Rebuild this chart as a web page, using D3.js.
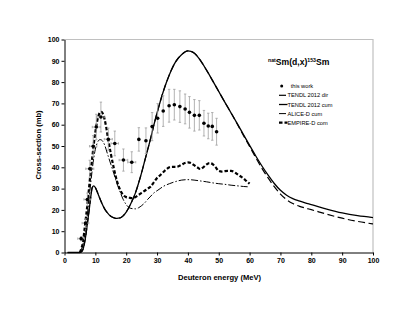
<!DOCTYPE html>
<html lang="en">
<head>
<meta charset="utf-8">
<title>natSm(d,x)153Sm</title>
<script src="https://cdn.jsdelivr.net/npm/d3@7"></script>
<style>
  body { margin: 0; background: #fff; }
  text { font-family: "Liberation Sans", Arial, sans-serif; }
</style>
</head>
<body>
<script>
// measured points (this work)
var expE   = [5.4, 6.8, 7.4, 8.2, 9.3, 10.3, 11.8, 14.2, 16.3, 19.1, 21.8, 24.1, 26.4, 28.4, 30.2, 32.0, 33.9, 35.6, 37.4, 39.1, 40.5, 42.1, 43.7, 45.2, 46.6, 47.9, 49.3];
var expSig = [6.5, 13.8, 24.9, 39.3, 49.9, 58.9, 63.6, 53.2, 51.2, 43.4, 42.4, 53.1, 52.5, 59.1, 63.0, 66.4, 68.9, 69.4, 68.5, 67.4, 65.8, 64.4, 64.4, 60.7, 59.4, 59.2, 56.7];
var expDy  = [1.0, 2.0, 3.0, 4.0, 5.0, 6.0, 7.0, 5.2, 5.8, 5.2, 4.9, 5.5, 6.0, 6.6, 6.9, 7.2, 7.7, 7.2, 7.4, 7.0, 7.4, 7.4, 6.9, 6.0, 6.0, 6.5, 6.3];
var expDx  = [1.1, 1.1, 1.1, 1.3, 1.2, 1.3, 1.3, 1.3, 1.2, 1.4, 1.3, 0.4, 0.4, 0.4, 0.4, 0.4, 0.4, 0.4, 0.4, 0.4, 0.4, 0.4, 0.4, 0.4, 0.4, 0.4, 0.4];

// TENDL-2012 cumulative
var tendlCumE = [1, 2, 3, 4, 5, 5.5, 6, 6.5, 7, 7.5, 8, 8.5, 9, 9.5, 10, 11, 12, 13, 14, 15, 16, 17, 18, 19, 20, 21, 22, 23, 24, 25, 26, 27, 28, 29, 30, 32, 34, 36, 38, 40, 42, 44, 46, 48, 50, 52, 54, 56, 58, 60, 62, 64, 66, 68, 70, 72, 74, 76, 78, 80, 85, 90, 95, 100];
var tendlCum  = [0, 0, 0, 0, 0, 0.3, 1.5, 4.5, 9, 14.5, 20, 26, 30.5, 31.3, 30.5, 27, 23.5, 20.5, 18.5, 17, 16.3, 16, 16.2, 17.2, 19, 21.5, 24.5, 28, 32.5, 37.5, 43, 48.5, 54, 60, 65.5, 75.5, 83.5, 89.5, 93, 94.7, 93.7, 90.3, 85.7, 80.7, 75.6, 70.5, 65.5, 60.5, 55.4, 50.3, 45.3, 40.6, 36.3, 32.4, 29.2, 26.9, 25.3, 24.2, 23.3, 22.5, 20.4, 18.6, 17.3, 16.4];

// TENDL-2012 direct
var tendlDirE = tendlCumE;
var tendlDir  = [0, 0, 0, 0, 0, 0.3, 1.5, 4.5, 9, 14.5, 20, 26, 30.5, 31.3, 30.5, 27, 23.5, 20.5, 18.5, 17, 16.3, 16, 16.2, 17.2, 19, 21.5, 24.5, 28, 32.5, 37.5, 43, 48.5, 54, 60, 65.5, 75.5, 83.5, 89.5, 93, 94.7, 93.7, 90.3, 85.7, 80.7, 75.6, 70.5, 65.5, 60.3, 55, 49.8, 44.5, 39.5, 35, 30.9, 27.4, 24.8, 23.0, 21.8, 20.9, 20.1, 18.0, 16.1, 14.6, 13.4];

// ALICE-D cumulative
var aliceE = [5, 5.5, 6, 6.5, 7, 7.5, 8, 8.5, 9, 9.5, 10, 10.5, 11, 11.5, 12, 12.5, 13, 14, 15, 16, 17, 18, 19, 20, 21, 22, 23, 24, 25, 26, 27, 28, 29, 30, 31, 32, 34, 36, 38, 40, 42, 44, 46, 48, 50, 52, 54, 56, 58, 60];
var alice  = [0, 1.5, 4, 8, 13, 19, 26, 32.5, 39, 44.5, 48.5, 51, 52.5, 53, 52.8, 52, 50.5, 46, 41.5, 37, 32.5, 28.5, 25, 22.5, 21, 20.6, 20.5, 21, 22, 23.3, 25, 26.5, 28, 29, 30, 31, 32.3, 33.3, 34, 34.2, 34, 33.6, 33.2, 32.7, 32.3, 32, 31.6, 31.3, 31, 30.8];

// EMPIRE-D cumulative
var empireE = [5, 5.5, 6, 6.5, 7, 7.5, 8, 8.5, 9, 9.5, 10, 10.5, 11, 11.5, 12, 12.5, 13, 13.5, 14, 15, 16, 17, 18, 19, 20, 21, 22, 23, 24, 25, 26, 27, 28, 29, 30, 31, 32, 33, 34, 35, 36, 37, 38, 39, 40, 41, 42, 43, 44, 45, 46, 47, 48, 49, 50, 51, 52, 53, 54, 55, 56, 57, 58, 59, 60];
var empire  = [0, 2, 5, 11, 17, 23.5, 31, 38, 44.5, 51, 56.5, 61, 64, 65.8, 66, 65, 62.5, 59, 54.5, 46.5, 39.5, 33.5, 29.5, 27, 26, 25.7, 25.5, 26, 27, 28, 29, 30, 31, 33, 35, 36.3, 37.7, 39, 40, 40.2, 40.2, 40.5, 41.2, 42, 42.3, 42, 41, 40, 39.2, 40, 41.3, 42, 41.5, 40, 38.3, 38, 38.2, 38.3, 38.3, 37.8, 36.8, 35.8, 34.8, 33.5, 32.3];

var xTicks = d3.range(0, 101, 10);
var yTicks = d3.range(0, 101, 10);

var W = 415, H = 321;
var svg = d3.select("body").append("svg")
    .attr("width", W)
    .attr("height", H);

var x = d3.scaleLinear().domain([0, 100]).range([64.5, 373]);
var y = d3.scaleLinear().domain([0, 100]).range([252.5, 39.5]);

// plot frame (grey top / right)
svg.append("path")
    .attr("d", "M" + x(0) + "," + y(100) + "H" + x(100) + "V" + y(0))
    .attr("fill", "none")
    .attr("stroke", "#c0c0c0")
    .attr("stroke-width", 1.2);

// axes
var xAxis = svg.append("g")
    .attr("transform", "translate(0," + y(0) + ")")
    .call(d3.axisBottom(x).tickValues(xTicks).tickSize(3).tickPadding(3).tickSizeOuter(0));
var yAxis = svg.append("g")
    .attr("transform", "translate(" + x(0) + ",0)")
    .call(d3.axisLeft(y).tickValues(yTicks).tickSize(3).tickPadding(2).tickSizeOuter(0));

[xAxis, yAxis].forEach(function (g) {
    g.selectAll("text")
        .attr("font-family", "Liberation Sans, Arial, sans-serif")
        .attr("font-size", 7)
        .attr("font-weight", "bold")
        .attr("fill", "#000");
    g.select(".domain").attr("stroke", "#000").attr("stroke-width", 1);
    g.selectAll(".tick line").attr("stroke", "#000");
});

// axis titles
svg.append("text")
    .attr("x", 219.5).attr("y", 279.5)
    .attr("text-anchor", "middle")
    .attr("font-size", 7.6).attr("font-weight", "bold")
    .text("Deuteron energy (MeV)");

svg.append("text")
    .attr("transform", "translate(40.5,145) rotate(-90)")
    .attr("text-anchor", "middle")
    .attr("font-size", 7.6).attr("font-weight", "bold")
    .text("Cross-section (mb)");

// curves
function zip(xs, ys) { return xs.map(function (v, i) { return [v, ys[i]]; }); }
var line = d3.line()
    .x(function (d) { return x(d[0]); })
    .y(function (d) { return y(d[1]); })
    .curve(d3.curveMonotoneX);

var series = [
    { name: "TENDL 2012 dir", data: zip(tendlDirE, tendlDir), width: 1.2, dash: "7,3.5" },
    { name: "TENDL 2012 cum", data: zip(tendlCumE, tendlCum), width: 1.3, dash: null },
    { name: "ALICE-D cum",    data: zip(aliceE, alice),       width: 1.0, dash: "7,2,1.5,2" },
    { name: "EMPIRE-D com",   data: zip(empireE, empire),     width: 2.2, dash: "3.5,2" }
];

svg.append("g").selectAll("path")
    .data(series)
    .join("path")
    .attr("d", function (s) { return line(s.data); })
    .attr("fill", "none")
    .attr("stroke", "#000")
    .attr("stroke-width", function (s) { return s.width; })
    .attr("stroke-dasharray", function (s) { return s.dash; });

// experimental points with error bars
var pts = expE.map(function (e, i) {
    return { e: e, s: expSig[i], dy: expDy[i], dx: expDx[i] };
});

var eb = svg.append("g").attr("stroke", "#a0a0a0").attr("stroke-width", 0.8);
pts.forEach(function (p) {
    var cx = x(p.e), cy = y(p.s);
    var y1 = y(p.s + p.dy), y2 = y(p.s - p.dy);
    eb.append("line").attr("x1", cx).attr("x2", cx).attr("y1", y1).attr("y2", y2);
    eb.append("line").attr("x1", cx - 1.2).attr("x2", cx + 1.2).attr("y1", y1).attr("y2", y1);
    eb.append("line").attr("x1", cx - 1.2).attr("x2", cx + 1.2).attr("y1", y2).attr("y2", y2);
    if (p.dx > 0.5) {
        var x1 = x(p.e - p.dx), x2 = x(p.e + p.dx);
        eb.append("line").attr("x1", x1).attr("x2", x2).attr("y1", cy).attr("y2", cy);
        eb.append("line").attr("x1", x1).attr("x2", x1).attr("y1", cy - 1.2).attr("y2", cy + 1.2);
        eb.append("line").attr("x1", x2).attr("x2", x2).attr("y1", cy - 1.2).attr("y2", cy + 1.2);
    }
});

svg.append("g").selectAll("circle")
    .data(pts)
    .join("circle")
    .attr("cx", function (p) { return x(p.e); })
    .attr("cy", function (p) { return y(p.s); })
    .attr("r", 1.8)
    .attr("fill", "#000");

// reaction title
var title = svg.append("text")
    .attr("x", 268).attr("y", 64.5)
    .attr("font-weight", "bold").attr("font-size", 8.6);
title.append("tspan").attr("font-size", 5.2).attr("dy", -3).text("nat");
title.append("tspan").attr("dy", 3).text("Sm(d,x)");
title.append("tspan").attr("font-size", 5.2).attr("dy", -3).text("153");
title.append("tspan").attr("dy", 3).text("Sm");

// legend
var legY = [86, 95.3, 104.5, 113.6, 122.6];
var leg = svg.append("g");
leg.append("circle").attr("cx", 281.7).attr("cy", legY[0]).attr("r", 1.5).attr("fill", "#000");
leg.append("text").attr("x", 290.7).attr("y", legY[0] + 2)
    .attr("font-size", 5.7).text("this work");

series.forEach(function (s, i) {
    var ly = legY[i + 1];
    leg.append("line")
        .attr("x1", 279).attr("x2", 287.5)
        .attr("y1", ly).attr("y2", ly)
        .attr("stroke", "#000")
        .attr("stroke-width", s.width)
        .attr("stroke-dasharray", s.dash);
    leg.append("text").attr("x", 287.5).attr("y", ly + 2)
        .attr("font-size", 5.7).text(s.name);
});
</script>
</body>
</html>
